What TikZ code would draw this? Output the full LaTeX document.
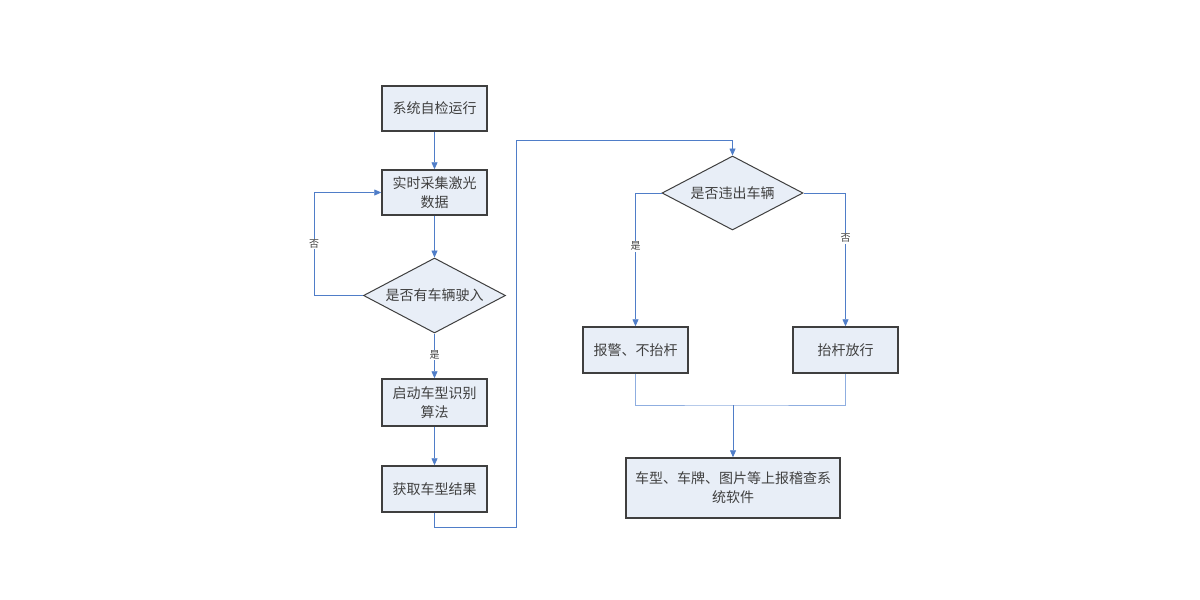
\documentclass[tikz,border=0pt]{standalone}
\usepackage{fontspec}
\newfontfamily\cjk{Noto Sans CJK SC}
\usetikzlibrary{shapes.geometric,arrows.meta}
\definecolor{boxfill}{HTML}{E8EEF7}
\definecolor{boxline}{HTML}{3F3F3F}
\definecolor{conn}{HTML}{4F7DC8}
\definecolor{connlight}{HTML}{8FAEE0}
\definecolor{txt}{HTML}{404040}
\tikzset{
  procbox/.style={draw=boxline, line width=1.5pt, fill=boxfill, rectangle, minimum width=105pt, minimum height=45pt, align=center, inner sep=2pt, font=\cjk\fontsize{14}{19}\selectfont, text=txt},
  decbox/.style={draw=boxline, line width=1pt, fill=boxfill, diamond, aspect=2, minimum width=142pt, minimum height=75pt, inner sep=1pt, font=\cjk\fontsize{14}{19}\selectfont, text=txt},
  conline/.style={draw=conn, line width=0.8pt},
  lightline/.style={draw=connlight, line width=0.8pt},
  arr/.style={conline, -{Triangle[length=7pt,width=6pt]}},
  lbl/.style={fill=white, inner sep=1pt, font=\cjk\fontsize{10}{12}\selectfont, text=txt}
}
\begin{document}
\begin{tikzpicture}[x=1pt,y=-1pt]
\useasboundingbox[fill=white] (0,0) rectangle (1200,600);
\node[procbox] (b1) at (434.5,108.5) {系统自检运行};
\node[procbox] (b2) at (434.5,192.5) {实时采集激光\\数据};
\node[decbox] (d1) at (434.5,295.5) {是否有车辆驶入};
\node[procbox, minimum height=47pt] (b3) at (434.5,402.5) {启动车型识别\\算法};
\node[procbox, minimum height=46pt] (b4) at (434.5,489) {获取车型结果};
\node[decbox, minimum width=141pt, minimum height=74pt] (d2) at (732.5,193) {是否违出车辆};
\node[procbox, minimum height=46pt] (b5) at (635.5,350) {报警、不抬杆};
\node[procbox, minimum height=46pt] (b6) at (845.5,350) {抬杆放行};
\node[procbox, minimum width=214pt, minimum height=60pt] (b7) at (733,488) {车型、车牌、图片等上报稽查系\\统软件};
\coordinate (lp) at (314,295.5);
\coordinate (r1) at (516,527);
\coordinate (r2) at (516,140);
\coordinate (j) at (733,405);

\draw[arr] (b1) -- (b2);
\draw[arr] (b2) -- (d1.north);
\draw[arr] (d1.west) -- (lp) |- node[lbl, pos=0.25] {否} (b2.west);
\draw[arr] (d1.south) -- node[lbl, pos=0.48] {是} (b3.north);
\draw[arr] (b3) -- (b4);
\draw[conline] (b4.south) |- (r1) -- (r2);
\draw[arr] (r2) -| (d2.north);
\draw[arr] (d2.west) -| node[lbl, pos=0.70] {是} (b5.north);
\draw[arr] (d2.east) -| node[lbl, pos=0.67] {否} (b6.north);
\draw[lightline] (b5.south) |- (j) -| (b6.south);
\draw[arr] (j) -- (b7.north);
\end{tikzpicture}
\end{document}
